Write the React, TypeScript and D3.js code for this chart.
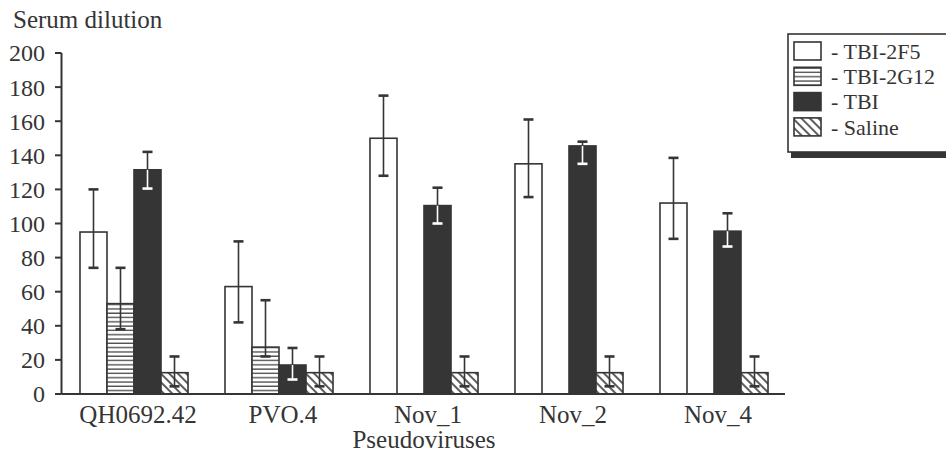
import React from "react";
import * as d3 from "d3";

const categories = ["QH0692.42", "PVO.4", "Nov_1", "Nov_2", "Nov_4"];
const seriesNames = ["TBI-2F5", "TBI-2G12", "TBI", "Saline"];

const tbi2f5 = [95, 63, 150, 135, 112];
const tbi2f5Low = [74, 42, 128, 115.5, 91];
const tbi2f5High = [120, 89.5, 175, 161, 138.5];

const tbi2g12: (number | null)[] = [53, 27.5, null, null, null];
const tbi2g12Low: (number | null)[] = [38, 22, null, null, null];
const tbi2g12High: (number | null)[] = [74, 55, null, null, null];

const tbi = [131.5, 17, 110.5, 145.5, 95.5];
const tbiLow = [120.5, 8.5, 100, 135, 86.5];
const tbiHigh = [142, 27, 121, 148, 106];

const saline = [12.5, 12.5, 12.5, 12.5, 12.5];
const salineLow = [4.5, 4.5, 4.5, 4.5, 4.5];
const salineHigh = [22, 22, 22, 22, 22];

const yTicks = [0, 20, 40, 60, 80, 100, 120, 140, 160, 180, 200];

const W = 946;
const H = 456;
const INK = "#353535";
const FONT = '"Liberation Serif", "DejaVu Serif", serif';
const txt: React.CSSProperties = { fontFamily: FONT, fontSize: "25px" };
const tickTxt: React.CSSProperties = { fontFamily: FONT, fontSize: "24px" };
const legTxt: React.CSSProperties = { fontFamily: FONT, fontSize: "22px" };

const seriesData = [
  { name: seriesNames[0], v: tbi2f5, lo: tbi2f5Low, hi: tbi2f5High, fill: "#fff", innerErr: INK },
  { name: seriesNames[1], v: tbi2g12, lo: tbi2g12Low, hi: tbi2g12High, fill: "url(#hlines)", innerErr: INK },
  { name: seriesNames[2], v: tbi, lo: tbiLow, hi: tbiHigh, fill: INK, innerErr: "#fff" },
  { name: seriesNames[3], v: saline, lo: salineLow, hi: salineHigh, fill: "url(#diag)", innerErr: INK },
];

export default function App() {
  const x0 = d3.scaleBand<string>().domain(categories).range([61.5, 786.5]).paddingInner(0.255).paddingOuter(0.1275);
  const x1 = d3.scaleBand<string>().domain(seriesNames).range([0, x0.bandwidth()]);
  const y = d3.scaleLinear().domain([0, 200]).range([394, 53]);
  const capW = 10;

  return (
    <svg width={W} height={H} style={{ position: "absolute", left: 0, top: 0, background: "#fff" }}>
      <defs>
        <pattern id="hlines" patternUnits="userSpaceOnUse" width="8" height="4.3">
          <rect width="8" height="4.3" fill="#fff" />
          <line x1="0" x2="8" y1="3.6" y2="3.6" stroke={INK} strokeWidth="1.2" />
        </pattern>
        <pattern id="diag" patternUnits="userSpaceOnUse" width="6" height="6" patternTransform="rotate(-45)">
          <rect width="6" height="6" fill="#fff" />
          <line x1="3" x2="3" y1="0" y2="6" stroke={INK} strokeWidth="1.6" />
        </pattern>
      </defs>

      <text x={13} y={28} style={txt} fill={INK}>Serum dilution</text>

      {/* y axis */}
      <line x1={61.5} x2={61.5} y1={y(200)} y2={y(0)} stroke={INK} strokeWidth={2} />
      {yTicks.map((t) => (
        <g key={t}>
          <line x1={55} x2={61.5} y1={y(t)} y2={y(t)} stroke={INK} strokeWidth={2} />
          <text x={45} y={y(t)} dy="0.35em" textAnchor="end" style={tickTxt} fill={INK}>{t}</text>
        </g>
      ))}

      {/* bars */}
      {categories.map((c, i) => (
        <g key={c} transform={`translate(${x0(c)},0)`}>
          {seriesData.map((s) => {
            const v = s.v[i];
            if (v === null || v === undefined) return null;
            const bx = x1(s.name)!;
            const bw = x1.bandwidth();
            const cx = bx + bw / 2;
            const lo = s.lo[i] as number;
            const hi = s.hi[i] as number;
            return (
              <g key={s.name}>
                <rect x={bx} y={y(v)} width={bw} height={y(0) - y(v)} fill={s.fill} stroke={INK} strokeWidth={1.6} />
                <line x1={cx} x2={cx} y1={y(hi)} y2={y(v)} stroke={INK} strokeWidth={1.6} />
                <line x1={cx - capW / 2} x2={cx + capW / 2} y1={y(hi)} y2={y(hi)} stroke={INK} strokeWidth={2.6} />
                <line x1={cx} x2={cx} y1={y(v)} y2={y(lo)} stroke={s.innerErr} strokeWidth={1.6} />
                <line x1={cx - capW / 2} x2={cx + capW / 2} y1={y(lo)} y2={y(lo)} stroke={s.innerErr} strokeWidth={2.6} />
              </g>
            );
          })}
          <text x={x0.bandwidth() / 2 + 4} y={423} textAnchor="middle" style={txt} fill={INK}>{c}</text>
        </g>
      ))}

      {/* x axis */}
      <line x1={61.5} x2={785} y1={y(0)} y2={y(0)} stroke={INK} strokeWidth={2} />
      <text x={424} y={448} textAnchor="middle" style={txt} fill={INK}>Pseudoviruses</text>

      {/* legend */}
      <rect x={791} y={38} width={170} height={120} fill={INK} />
      <rect x={788} y={34} width={170} height={118} fill="#fff" stroke={INK} strokeWidth={1.6} />
      {seriesData.map((s, k) => {
        const ry = 42 + k * 25.3;
        return (
          <g key={s.name}>
            <rect x={794} y={ry} width={27} height={18} fill={s.fill} stroke={INK} strokeWidth={1.6} />
            <text x={831} y={ry + 9} dy="0.35em" style={legTxt} fill={INK}>- {s.name}</text>
          </g>
        );
      })}
    </svg>
  );
}
